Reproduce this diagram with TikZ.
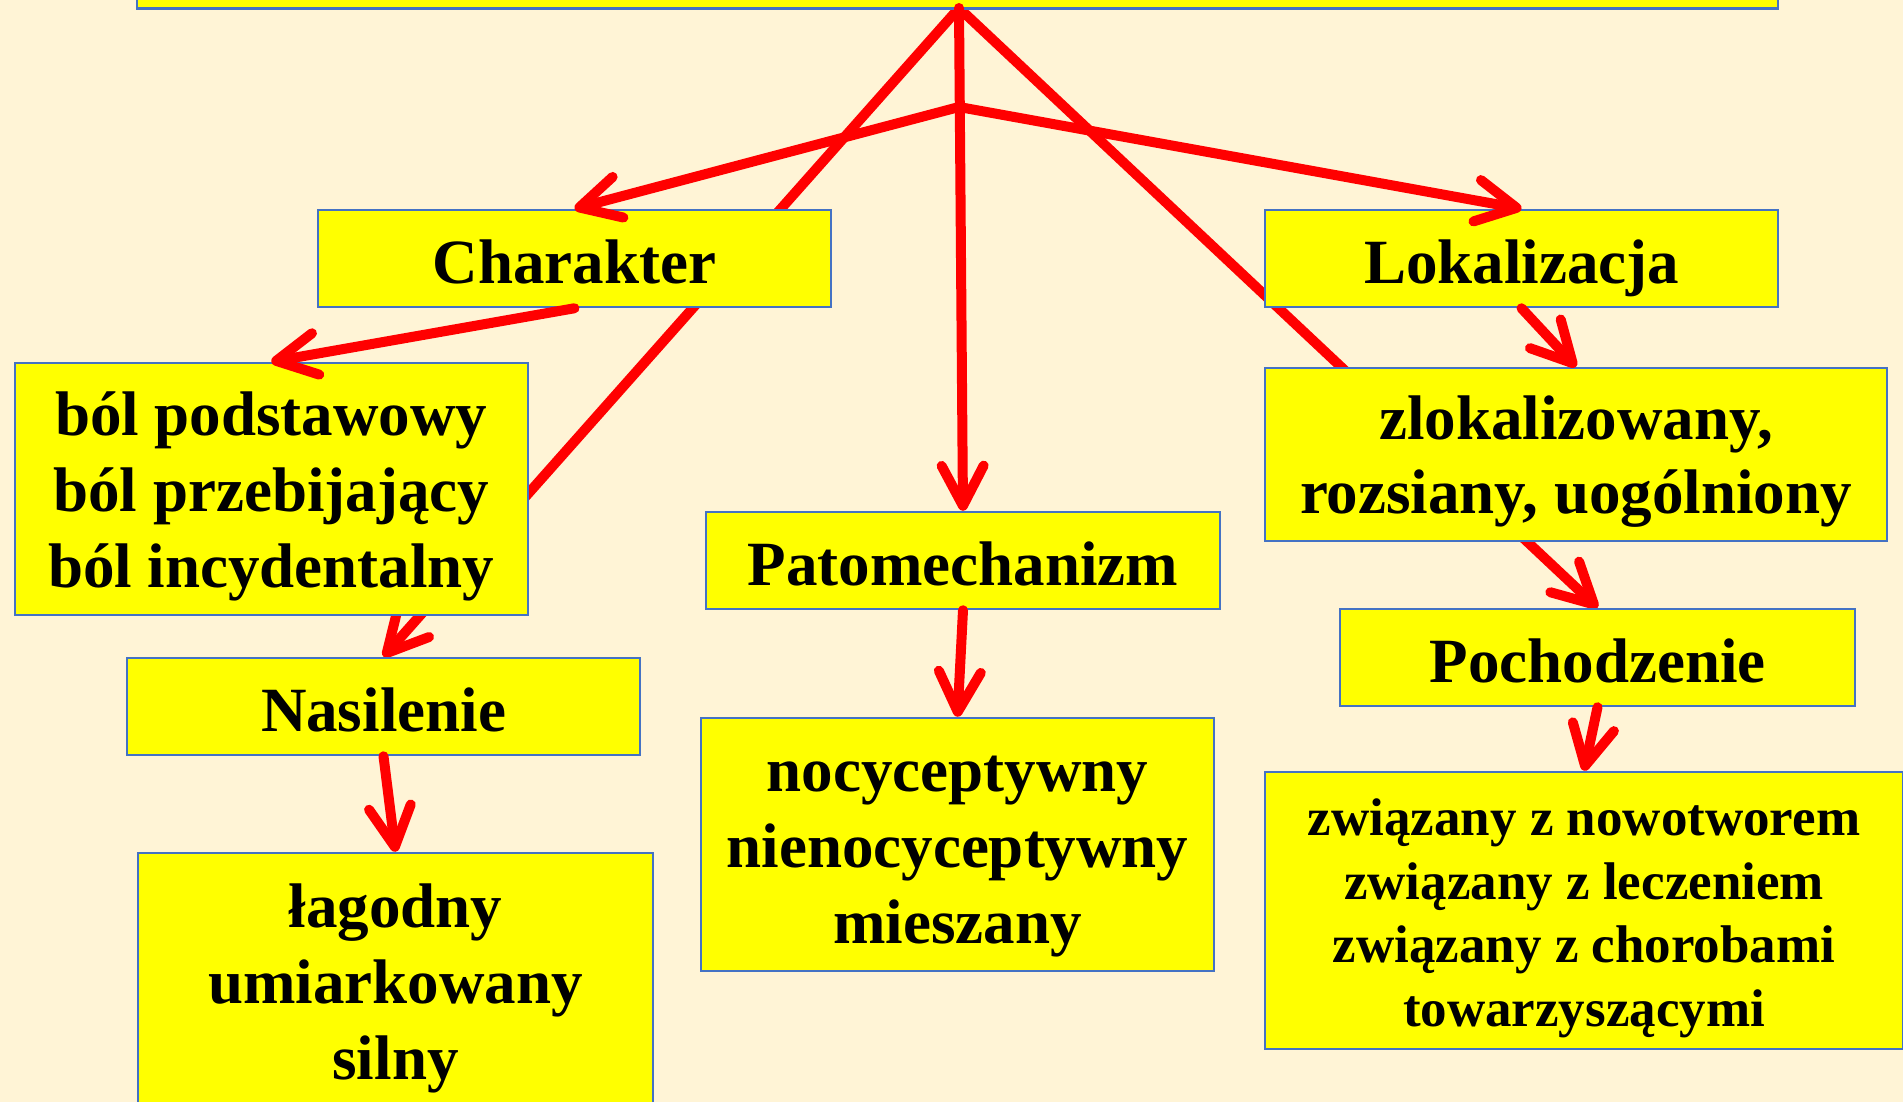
\documentclass[tikz,border=0pt]{standalone}
\usepackage{fontspec}
\setmainfont{Liberation Serif}
\usetikzlibrary{arrows.meta}
\pgfdeclarelayer{back}
\pgfdeclarelayer{bg}
\pgfsetlayers{back,bg,main}
\definecolor{boxblue}{HTML}{4472C4}
\definecolor{cream}{HTML}{FFF4D6}
\definecolor{pyellow}{HTML}{FFFF00}
\definecolor{pred}{HTML}{FF0000}
\begin{document}
\begin{tikzpicture}[x=1pt,y=-1pt,
  box/.style={draw=boxblue, line width=2.5pt, fill=pyellow, inner sep=0pt},
  txt/.style={inner sep=0pt, align=center, font=\bfseries\fontsize{63}{76}\selectfont},
  txtone/.style={txt, text height=45pt, text depth=0pt},
  smalltxt/.style={txt, font=\bfseries\fontsize{53}{63.5}\selectfont},
  arr/.style={draw=pred, line width=10pt, line cap=round,
    -{Straight Barb[length=40pt,width=42pt,round]}},
]
\useasboundingbox (0,0) rectangle (1903,1102);
\begin{pgfonlayer}{back}
\fill[cream] (0,0) rectangle (1903,1102);
\end{pgfonlayer}

% boxes
\node[box, minimum width=1641pt, minimum height=60pt] (top) at (957.5,-21.5) {};
\node[box, minimum width=513pt, minimum height=97pt] (char) at (574.5,258.5) {};
\node[box, minimum width=513pt, minimum height=97pt] (lok) at (1521.5,258.5) {};
\node[box, minimum width=513pt, minimum height=252pt] (bol) at (271.3,489) {};
\node[box, minimum width=513pt, minimum height=97pt] (nas) at (383.5,706.5) {};
\node[box, minimum width=515pt, minimum height=260pt] (lag) at (395.5,983) {};
\node[box, minimum width=514pt, minimum height=97pt] (pat) at (963,560.5) {};
\node[box, minimum width=513pt, minimum height=253pt] (noc) at (957.5,844.5) {};
\node[box, minimum width=622pt, minimum height=173pt] (zlo) at (1576,454.5) {};
\node[box, minimum width=515pt, minimum height=97pt] (poch) at (1597.5,657.5) {};
\node[box, minimum width=638pt, minimum height=277pt] (zw) at (1584,910.5) {};

% texts
\node[txtone] (chart) at (574.5,260.5) {Charakter};
\node[txtone] (lokt) at (1521.5,260.5) {Lokalizacja};
\node[txt] (bolt) at (271.3,496) {ból podstawowy\\ból przebijający\\ból incydentalny};
\node[txtone] (nast) at (383.5,708.5) {Nasilenie};
\node[txt] (lagt) at (395.5,988) {łagodny\\umiarkowany\\silny};
\node[txtone] (patt) at (963,562.5) {Patomechanizm};
\node[txt] (noct) at (957.5,856.5) {nocyceptywny\\nienocyceptywny\\mieszany};
\node[txt, font=\bfseries\fontsize{63}{74}\selectfont] (zlot) at (1576,461.5) {zlokalizowany,\\rozsiany, uogólniony};
\node[txtone] (pocht) at (1597.5,659.5) {Pochodzenie};
\node[smalltxt] (zwt) at (1584,918.5) {związany z nowotworem\\związany z leczeniem\\związany z chorobami\\towarzyszącymi};

\coordinate (apex) at (959,8);
\coordinate (hub) at (959,107);

\begin{pgfonlayer}{bg}
\draw[arr] (apex) -- (nas.north);
\draw[arr] (apex) -- (poch.north);
\end{pgfonlayer}

\draw[arr] (apex) -- (pat.north);
\draw[arr] (hub) -- (char.north);
\draw[arr] (hub) -- (lok.north);
\draw[arr] (char.south) -- (bol.north);
\draw[arr] (lok.south) -- (zlo.north);
\draw[arr] (pat.south) -- (noc.north);
\draw[arr] (nas.south) -- (lag.north);
\draw[arr] (poch.south) -- (zw.north);
\end{tikzpicture}
\end{document}
